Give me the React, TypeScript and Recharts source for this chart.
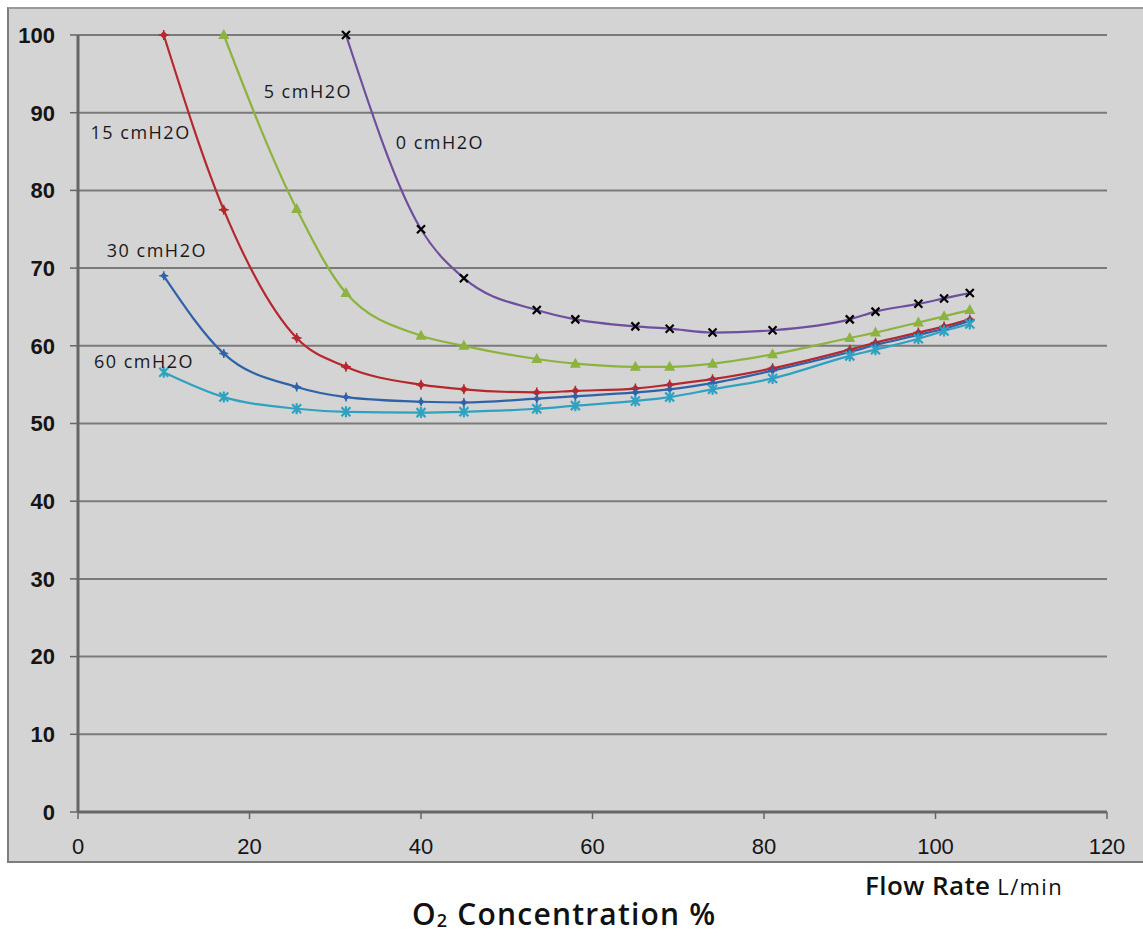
import React from 'react';
import { LineChart, Line, XAxis, YAxis, CartesianGrid, ReferenceDot } from 'recharts';

const flowRates = [10, 17, 25.5, 31.25, 40, 45, 53.5, 58, 65, 69, 74, 81, 90, 93, 98, 101, 104];
const cm0 = [null, null, null, 100, 75.0, 68.7, 64.6, 63.4, 62.5, 62.2, 61.7, 62.0, 63.4, 64.4, 65.4, 66.1, 66.8];
const cm5 = [null, 100, 77.6, 66.8, 61.3, 60.0, 58.3, 57.7, 57.3, 57.3, 57.7, 58.9, 61.0, 61.7, 63.0, 63.8, 64.6];
const cm15 = [100, 77.5, 61.0, 57.3, 55.0, 54.4, 54.0, 54.2, 54.5, 55.0, 55.7, 57.1, 59.5, 60.4, 61.7, 62.5, 63.4];
const cm30 = [69.0, 59.0, 54.7, 53.4, 52.8, 52.7, 53.2, 53.5, 54.0, 54.4, 55.2, 56.8, 59.2, 60.1, 61.4, 62.2, 63.2];
const cm60 = [56.6, 53.4, 51.9, 51.5, 51.4, 51.5, 51.9, 52.3, 52.9, 53.4, 54.4, 55.8, 58.7, 59.5, 60.9, 61.9, 62.8];

const xTicks = [0, 20, 40, 60, 80, 100, 120];
const yTicks = [0, 10, 20, 30, 40, 50, 60, 70, 80, 90, 100];

const seriesLabels = [
  { text: '5 cmH2O', x: 26.8, y: 92.7 },
  { text: '0 cmH2O', x: 42.2, y: 86.1 },
  { text: '15 cmH2O', x: 7.3, y: 87.4 },
  { text: '30 cmH2O', x: 9.2, y: 72.2 },
  { text: '60 cmH2O', x: 7.7, y: 58.0 },
];

const data = flowRates.map((x, i) => ({
  x,
  cm0: cm0[i],
  cm5: cm5[i],
  cm15: cm15[i],
  cm30: cm30[i],
  cm60: cm60[i],
}));

const C = {
  cm0: '#6f4e9e',
  cm5: '#8cb23f',
  cm15: '#b5282d',
  cm30: '#2f62a8',
  cm60: '#2ea2c0',
};

const ok = (p: any) => p && p.value != null && p.cx != null && p.cy != null && !isNaN(p.cy);

const XDot = (p: any) => {
  if (!ok(p)) return <g key={p.key} />;
  const { cx, cy } = p;
  const s = 4;
  return (
    <path key={p.key} d={`M${cx - s},${cy - s}L${cx + s},${cy + s}M${cx + s},${cy - s}L${cx - s},${cy + s}`} stroke="#000" strokeWidth={2.2} fill="none" />
  );
};

const TriDot = (p: any) => {
  if (!ok(p)) return <g key={p.key} />;
  const { cx, cy } = p;
  return <path key={p.key} d={`M${cx},${cy - 6}L${cx + 5.5},${cy + 4}L${cx - 5.5},${cy + 4}Z`} fill={C.cm5} />;
};

const DiamondDot = (color: string, s: number) => (p: any) => {
  if (!ok(p)) return <g key={p.key} />;
  const { cx, cy } = p;
  return (
    <g key={p.key}>
      <path d={`M${cx},${cy - s}L${cx + s},${cy}L${cx},${cy + s}L${cx - s},${cy}Z`} fill={color} />
      <path d={`M${cx - s - 1},${cy}L${cx + s + 1},${cy}M${cx},${cy - s - 1}L${cx},${cy + s + 1}`} stroke={color} strokeWidth={1.5} />
    </g>
  );
};

const StarDot = (p: any) => {
  if (!ok(p)) return <g key={p.key} />;
  const { cx, cy } = p;
  const s = 4.5;
  return (
    <path
      key={p.key}
      d={`M${cx - s},${cy - s}L${cx + s},${cy + s}M${cx + s},${cy - s}L${cx - s},${cy + s}M${cx},${cy - s - 1}L${cx},${cy + s + 1}`}
      stroke={C.cm60}
      strokeWidth={2.2}
      fill="none"
    />
  );
};

const xTickStyle = { fontFamily: 'Liberation Sans', fontSize: 22, fill: '#151515' };
const yTickStyle = { fontFamily: 'Liberation Sans', fontSize: 22, fill: '#151515', fontWeight: 'bold' };

export default function App() {
  return (
    <div style={{ position: 'absolute', left: 0, top: 0, width: 1143, height: 936, background: '#fff', overflow: 'hidden' }}>
      <div
        style={{
          position: 'absolute',
          left: 7,
          top: 7,
          width: 1150,
          height: 852,
          background: '#d4d4d4',
          borderLeft: '2px solid #7d7d7d',
          borderTop: '2px solid #9a9a9a',
          borderBottom: '2px solid #7d7d7d',
        }}
      />
      <div style={{ position: 'absolute', left: 0, top: 0 }}>
        <LineChart width={1143} height={936} data={data} margin={{ top: 35, right: 36, bottom: 84, left: 0 }}>
          <CartesianGrid vertical={false} stroke="#7a7a7a" strokeWidth={2} strokeOpacity={1} />
          <XAxis
            dataKey="x"
            type="number"
            domain={[0, 120]}
            ticks={xTicks}
            height={40}
            tickSize={7}
            tickMargin={19}
            axisLine={{ stroke: '#666', strokeWidth: 3 }}
            tickLine={{ stroke: '#666', strokeWidth: 1.5 }}
            tick={xTickStyle}
            interval={0}
          />
          <YAxis
            type="number"
            domain={[0, 100]}
            ticks={yTicks}
            width={78}
            tickSize={8}
            tickMargin={15}
            axisLine={{ stroke: '#666', strokeWidth: 3 }}
            tickLine={{ stroke: '#666', strokeWidth: 1.5 }}
            tick={yTickStyle}
            interval={0}
          />
          <Line type="monotone" dataKey="cm0" stroke={C.cm0} strokeWidth={2.2} dot={XDot} activeDot={false} isAnimationActive={false} />
          <Line type="monotone" dataKey="cm5" stroke={C.cm5} strokeWidth={2.2} dot={TriDot} activeDot={false} isAnimationActive={false} />
          <Line type="monotone" dataKey="cm15" stroke={C.cm15} strokeWidth={2.2} dot={DiamondDot(C.cm15, 4)} activeDot={false} isAnimationActive={false} />
          <Line type="monotone" dataKey="cm30" stroke={C.cm30} strokeWidth={2.2} dot={DiamondDot(C.cm30, 3.5)} activeDot={false} isAnimationActive={false} />
          <Line type="monotone" dataKey="cm60" stroke={C.cm60} strokeWidth={2.2} dot={StarDot} activeDot={false} isAnimationActive={false} />
          {seriesLabels.map((l) => (
            <ReferenceDot
              key={l.text}
              x={l.x}
              y={l.y}
              r={0}
              stroke="none"
              fill="none"
              label={{ value: l.text, position: 'center', fill: '#1a1a1a', fontSize: 18, fontFamily: 'Open Sans', letterSpacing: 1.5 }}
            />
          ))}
        </LineChart>
      </div>
      <div
        style={{
          position: 'absolute',
          left: 865,
          top: 870,
          fontFamily: 'Open Sans',
          fontSize: 26,
          color: '#111',
          whiteSpace: 'nowrap',
          lineHeight: '30px',
        }}
      >
        <span style={{ fontWeight: 600, letterSpacing: 0.4 }}>Flow Rate</span>{' '}
        <span style={{ fontSize: 22, fontWeight: 'normal', letterSpacing: 1.4 }}>L/min</span>
      </div>
      <div
        style={{
          position: 'absolute',
          left: 412,
          top: 899,
          fontFamily: 'Open Sans',
          fontSize: 30,
          fontWeight: 600,
          color: '#111',
          letterSpacing: 1.2,
          whiteSpace: 'nowrap',
          lineHeight: '30px',
        }}
      >
        O<span style={{ fontSize: 18, position: 'relative', top: 2 }}>2</span> Concentration %
      </div>
    </div>
  );
}
